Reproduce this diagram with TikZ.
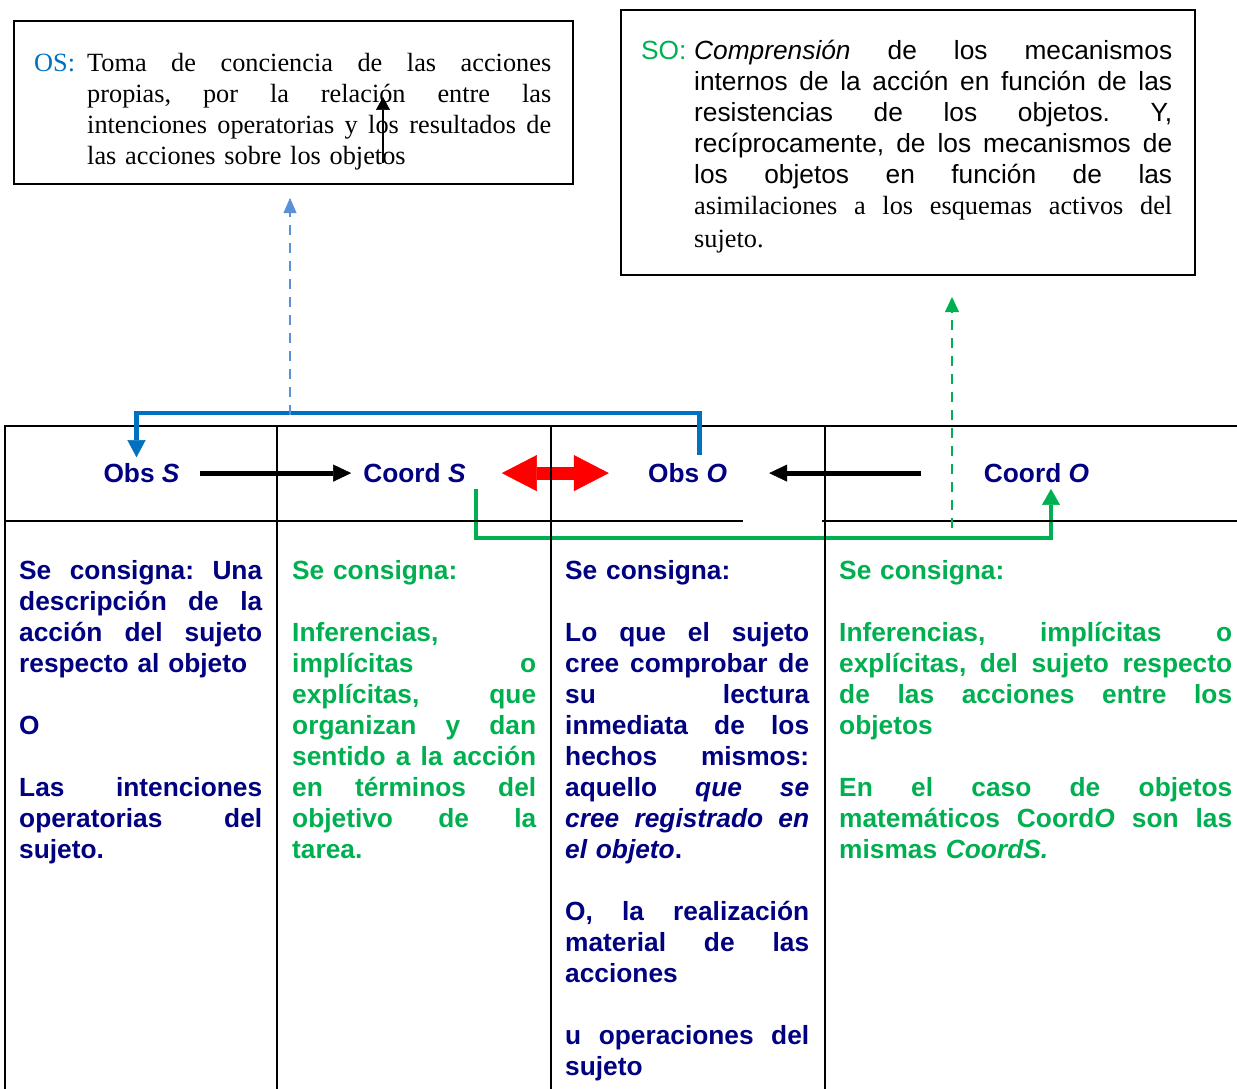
\documentclass[tikz,border=0pt]{standalone}
\usepackage{fontspec}
\setmainfont{Liberation Serif}
\setsansfont{Liberation Sans}
\usetikzlibrary{arrows.meta}
\definecolor{navy}{RGB}{0,0,128}
\definecolor{ogreen}{RGB}{0,176,80}
\definecolor{oblue}{RGB}{0,112,192}
\definecolor{lblue}{RGB}{91,143,214}
\newlength\cw
\makeatletter
\def\jl#1{\leavevmode\hbox to\cw{\jl@w#1 \jl@end}}
\def\jl@w#1 #2\jl@end{#1\if\relax\detokenize{#2}\relax\expandafter\@gobble\else\hfill\expandafter\jl@w\fi #2\jl@end}
\makeatother
\newcommand\fs{\fontsize{26.3}{31}\selectfont}
\tikzset{
  cellw/.style={text width=#1, execute at begin node={\setlength{\cw}{#1}}},
  cell/.style={anchor=base west, inner sep=0pt, align=left, font=\fs\sffamily\bfseries},
  hdr/.style={anchor=base, inner sep=0pt, font=\fs\sffamily\bfseries, text=navy},
  tline/.style={line width=2.2pt, black},
  boxst/.style={draw, line width=2pt, inner sep=0pt, anchor=north west},
  blk/.style={line width=5pt, -{Triangle[length=18pt,width=17pt,line width=0.5pt]}},
  redarr/.style={red, line width=13pt,
     {Triangle[length=35pt,width=36pt,line width=0.5pt]}-{Triangle[length=35pt,width=36pt,line width=0.5pt]}},
  bluebr/.style={oblue, line width=4.5pt, -{Triangle[length=17pt,width=18pt,line width=0.5pt]}},
  greenbr/.style={ogreen, line width=4.5pt, -{Triangle[length=16pt,width=18pt,line width=0.5pt]}},
  bdash/.style={lblue, line width=2pt, dash pattern=on 10pt off 8pt, -{Triangle[length=15pt,width=13pt,line width=0.5pt]}},
  gdash/.style={ogreen, line width=2pt, dash pattern=on 10pt off 8pt, -{Triangle[length=15pt,width=14pt,line width=0.5pt]}},
}
\begin{document}
\begin{tikzpicture}[x=1pt,y=-1pt]
\useasboundingbox (0,0) rectangle (1237,1089);

% top boxes
\node[boxst, minimum width=559pt, minimum height=163pt] (osbox) at (13,20) {};
\node[boxst, minimum width=574pt, minimum height=265pt] (sobox) at (620,9) {};

\node[anchor=base west, inner sep=0pt, font=\fs, text=oblue] (oslab) at (34,72) {OS:};
\node[anchor=base west, inner sep=0pt, cellw=464pt, align=left, font=\fs] (ostxt) at (87,72)
 {\jl{Toma de conciencia de las acciones}\\
  \jl{propias, por la relación entre las}\\
  \jl{intenciones operatorias y los resultados de}\\
  las acciones sobre los objetos};

\node[anchor=base west, inner sep=0pt, font=\fs\sffamily, text=ogreen] (solab) at (641,60) {SO:};
\node[anchor=base west, inner sep=0pt, cellw=478pt, align=left, font=\fs\sffamily] (sotxt) at (694,60)
 {\jl{\textit{Comprensión} de los mecanismos}\\
  \jl{internos de la acción en función de las}\\
  \jl{resistencias de los objetos. Y,}\\
  \jl{recíprocamente, de los mecanismos de}\\
  \jl{los objetos en función de las}\\
  \jl{\rmfamily asimilaciones a los esquemas activos del}\\[2pt]
  {\rmfamily sujeto.}};

% small stray arrow in OS box
\coordinate (sa1) at (383,163);
\coordinate (sa2) at (383,97);
\draw[line width=2pt, -{Triangle[length=13pt,width=14pt,line width=0.5pt]}] (sa1) -- (sa2);

% header labels
\node[hdr] (obsS) at (141.5,482.5) {Obs \textit{S}};
\node[hdr] (coordS) at (414.5,482.5) {Coord \textit{S}};
\node[hdr] (obsO) at (687.5,482.5) {Obs \textit{O}};
\node[hdr] (coordO) at (1036.5,482.5) {Coord \textit{O}};

% arrows in header
\draw[redarr, shorten <=36pt, shorten >=39pt] (coordS.east) -- (obsO.west);
\draw[greenbr] ([xshift=10pt,yshift=-6pt]coordS.south east) -- ++(0,49) -| ([xshift=14.5pt,yshift=-6pt]coordO.south);

% table
\draw[tline] (5,1089) -- (5,426) -- (1237,426);
\draw[tline] (277,426) -- (277,1089);
\draw[tline] (551,426) -- (551,1089);
\draw[tline] (825,426) -- (825,1089);
\draw[tline] (5,521) -- (743,521);
\draw[tline] (822,521) -- (1237,521);

\draw[blk, shorten <=20pt, shorten >=12pt] (obsS.east) -- (coordS.west);
\draw[blk, shorten <=63pt, shorten >=42pt] (coordO.west) -- (obsO.east);
\draw[bluebr] ([xshift=12pt,yshift=8pt]obsO.north) -- ++(0,-42) -| ([xshift=-5pt,yshift=6pt]obsS.north);

\coordinate (bj) at (290,415);
\draw[bdash, shorten >=13pt] (bj) -- (bj |- osbox.south);
\coordinate (gj) at (952,528);
\draw[gdash, shorten >=21pt] (gj) -- (gj |- sobox.south);

% cells
\node[cell, cellw=243pt, text=navy] (c1) at (19,579)
 {\jl{Se consigna: Una}\\
  \jl{descripción de la}\\
  \jl{acción del sujeto}\\
  respecto al objeto\\
  \mbox{}\\
  O\\
  \mbox{}\\
  \jl{Las intenciones}\\
  \jl{operatorias del}\\
  sujeto.};
\node[cell, cellw=244pt, text=ogreen] (c2) at (292,579)
 {Se consigna:\\
  \mbox{}\\
  Inferencias,\\
  \jl{implícitas o}\\
  \jl{explícitas, que}\\
  \jl{organizan y dan}\\
  \jl{sentido a la acción}\\
  \jl{en términos del}\\
  \jl{objetivo de la}\\
  tarea.};
\node[cell, cellw=244pt, text=navy] (c3) at (565,579)
 {Se consigna:\\
  \mbox{}\\
  \jl{Lo que el sujeto}\\
  \jl{cree comprobar de}\\
  \jl{su lectura}\\
  \jl{inmediata de los}\\
  \jl{hechos mismos:}\\
  \jl{aquello \textit{que} \textit{se}}\\
  \jl{\textit{cree} \textit{registrado} \textit{en}}\\
  \textit{el objeto}.\\
  \mbox{}\\
  \jl{O, la realización}\\
  \jl{material de las}\\
  acciones\\
  \mbox{}\\
  \jl{u operaciones del}\\
  sujeto};
\node[cell, cellw=393pt, text=ogreen] (c4) at (839,579)
 {Se consigna:\\
  \mbox{}\\
  \jl{Inferencias, implícitas o}\\
  \jl{explícitas, del sujeto respecto}\\
  \jl{de las acciones entre los}\\
  objetos\\
  \mbox{}\\
  \jl{En el caso de objetos}\\
  \jl{matemáticos Coord\textit{O} son las}\\
  mismas \textit{CoordS.}};
\end{tikzpicture}
\end{document}
